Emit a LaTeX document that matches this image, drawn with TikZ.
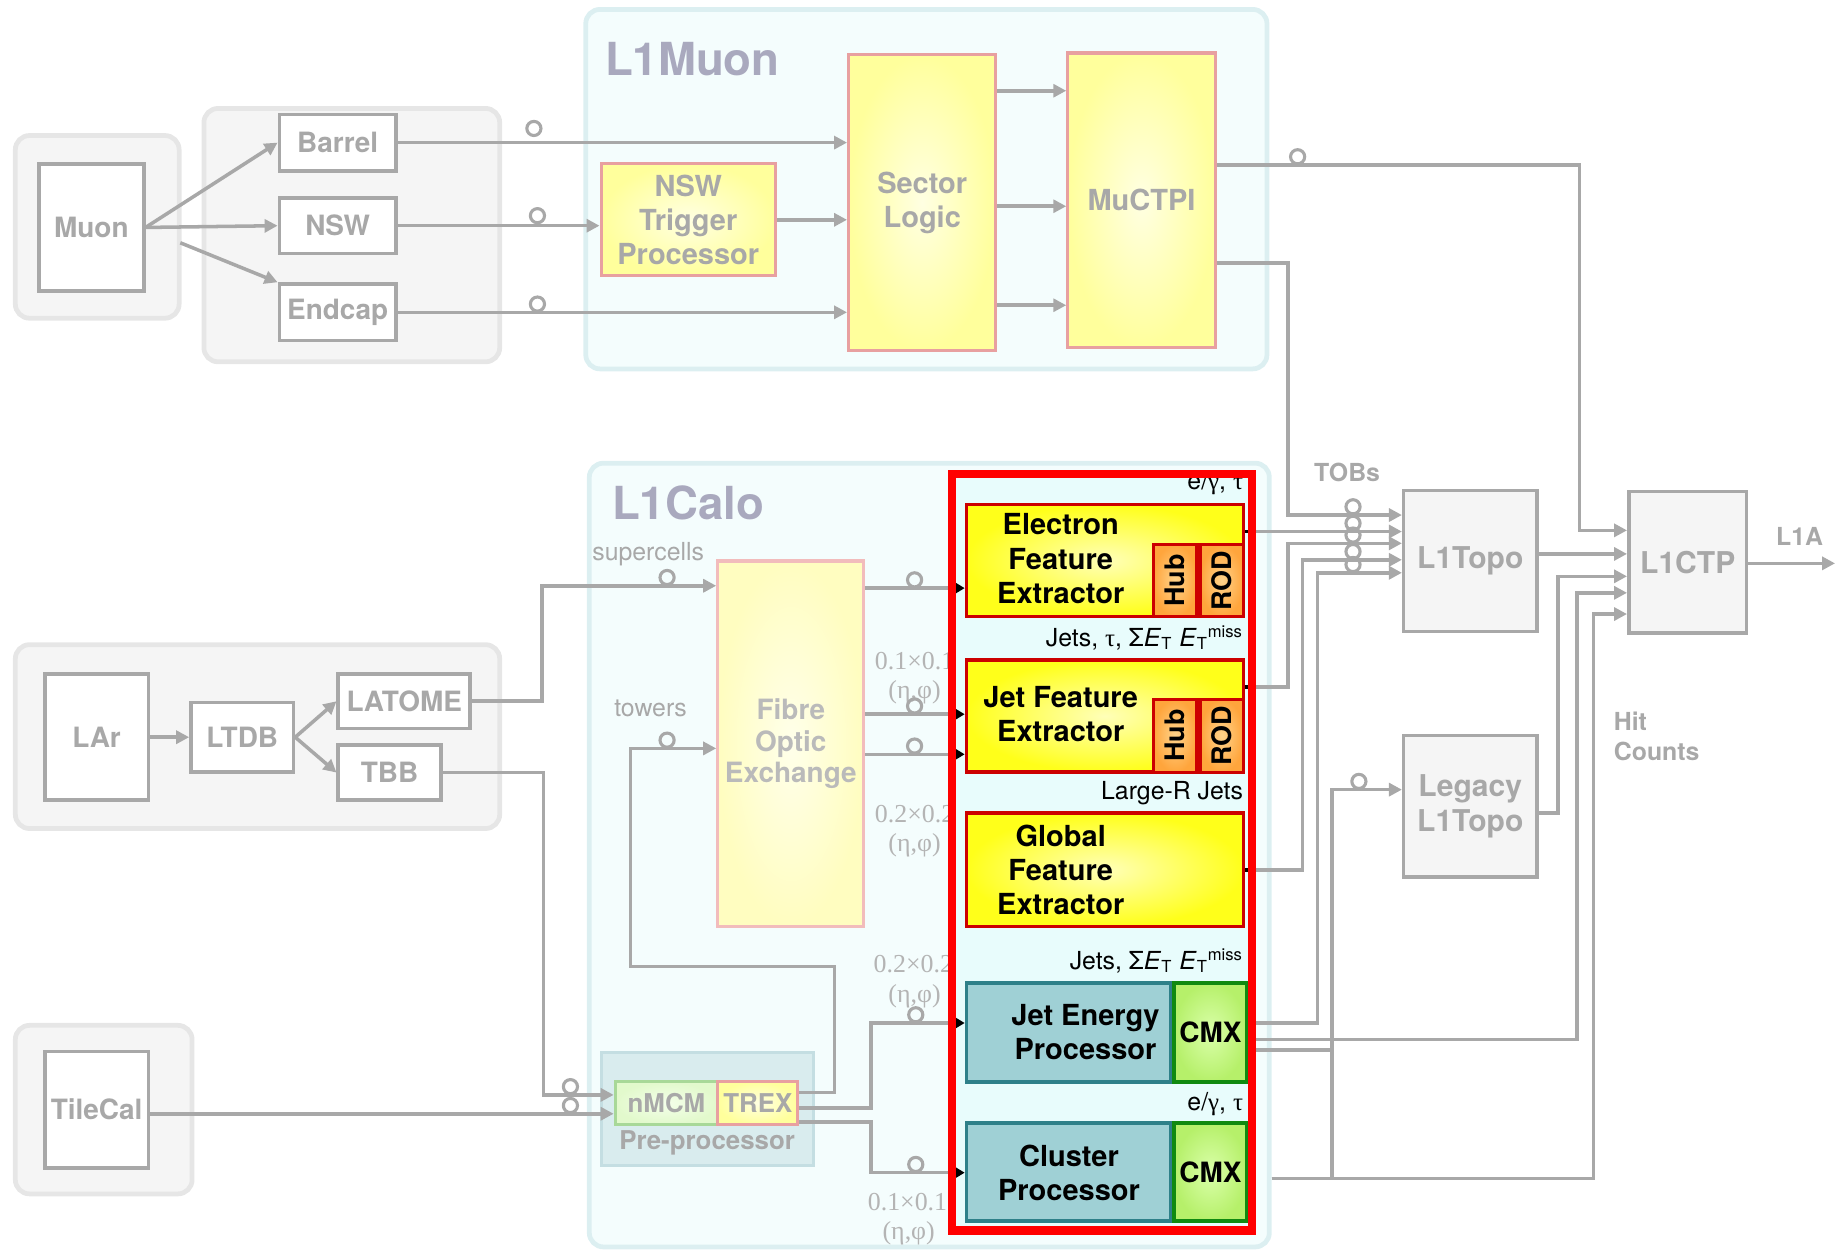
\documentclass[tikz,border=0pt]{standalone}
\usepackage{fontspec}
\setmainfont{TeX Gyre Heros}
\newfontfamily\gridfont{Liberation Serif}
\usetikzlibrary{arrows.meta, positioning}

\definecolor{lgray}{HTML}{A8A8A8}
\definecolor{fadegray}{HTML}{BABABA}
\definecolor{gridgray}{HTML}{B4B4B4}
\definecolor{grpfill}{HTML}{F5F5F5}
\definecolor{grpline}{HTML}{E6E6E6}
\definecolor{panelfill}{HTML}{F4FDFD}
\definecolor{panelline}{HTML}{DCEFF1}
\definecolor{titlecol}{HTML}{A9A9BE}
\definecolor{pinkline}{HTML}{E8A0A0}
\definecolor{yelin}{HTML}{FFFFE2}
\definecolor{yelout}{HTML}{FFFF9C}
\definecolor{fadein}{HTML}{FFFFEA}
\definecolor{fadeout}{HTML}{FFFDC0}
\definecolor{fadeline}{HTML}{F2BCBC}
\definecolor{fexin}{HTML}{FFFFB8}
\definecolor{fexout}{HTML}{FFFF1A}
\definecolor{fexline}{HTML}{CC0000}
\definecolor{hubin}{HTML}{FFD38A}
\definecolor{hubout}{HTML}{FFA53C}
\definecolor{redin}{HTML}{E8FCFC}
\definecolor{tealfill}{HTML}{9FD0D5}
\definecolor{tealline}{HTML}{2E8089}
\definecolor{cmxin}{HTML}{DAFFAA}
\definecolor{cmxout}{HTML}{B6F06A}
\definecolor{cmxline}{HTML}{108A10}
\definecolor{prefill}{HTML}{D9ECEE}
\definecolor{preline}{HTML}{C4DEE2}
\definecolor{mcmin}{HTML}{F4FFEA}
\definecolor{mcmout}{HTML}{E2F9CC}
\definecolor{mcmline}{HTML}{A8D898}

\tikzset{sz/.style 2 args={minimum width=#1*0.02cm, minimum height=#2*0.02cm}}

\begin{document}
\begin{tikzpicture}[x=0.02cm, y=-0.02cm,
    grp/.style={draw=grpline, line width=2.3pt, fill=grpfill, rounded corners=0.24cm, inner sep=0pt},
    panel/.style={draw=panelline, line width=2.3pt, fill=panelfill, rounded corners=0.24cm, inner sep=0pt},
    dev/.style={draw=lgray, line width=1.7pt, fill=white, inner sep=0pt, text=lgray, align=center, font=\fontsize{13.5}{16}\selectfont\bfseries},
    topo/.style={dev, fill=grpfill, font=\fontsize{14.5}{17}\selectfont\bfseries},
    proc/.style={dev, draw=pinkline, line width=1.5pt, inner color=yelin, outer color=yelout, font=\fontsize{14}{16.5}\selectfont\bfseries},
    fade/.style={proc, draw=fadeline, inner color=fadein, outer color=fadeout, text=fadegray, font=\fontsize{13.5}{15}\selectfont\bfseries},
    fex/.style={draw=fexline, line width=1.7pt, inner color=fexin, outer color=fexout, inner sep=0pt},
    fextxt/.style={font=\fontsize{14}{16.5}\selectfont\bfseries, align=center, inner sep=0pt},
    board/.style={draw=fexline, line width=1.5pt, inner color=hubin, outer color=hubout, inner sep=0pt, font=\fontsize{13}{15}\selectfont\bfseries},
    teal/.style={draw=tealline, line width=1.7pt, fill=tealfill, inner sep=0pt},
    cmx/.style={draw=cmxline, line width=1.7pt, inner color=cmxin, outer color=cmxout, inner sep=0pt, font=\fontsize{13.5}{16}\selectfont\bfseries},
    title/.style={text=titlecol, font=\fontsize{22}{26}\selectfont\bfseries, anchor=west, inner sep=0pt},
    note/.style={text=lgray, font=\fontsize{12}{14.5}\selectfont, inner sep=0pt},
    bnote/.style={note, font=\fontsize{12}{14.5}\selectfont\bfseries, align=left},
    grid/.style={text=gridgray, font=\gridfont\fontsize{12.5}{14}\selectfont, inner sep=0pt},
    tag/.style={font=\fontsize{12}{14}\selectfont, inner sep=0pt, anchor=east},
    link/.style={draw=lgray, line width=1.7pt},
    arr/.style={link, -{Triangle[length=0.22cm, width=0.22cm]}},
    inarr/.style={link, -{Triangle[length=0.16cm, width=0.18cm, color=black]}},
    ring/.style={draw=lgray, line width=1.5pt},
    stub/.style={draw=black, line width=1.7pt},
    redframe/.style={draw=red, line width=4pt}]

    \useasboundingbox (0,0) rectangle (1568,1060);

    % group panels
    \node[grp, sz={139}{155}] (muongrp) at (82.5,192.5) {};
    \node[grp, sz={251}{215}] (detgrp) at (298.5,199.5) {};
    \node[grp, sz={411}{156}] (largrp) at (218.5,625) {};
    \node[grp, sz={150}{143}] (tilegrp) at (88,941.5) {};
    \node[panel, sz={578}{305}] (muonpanel) at (786,160.5) {};
    \node[panel, sz={577}{665}] (calopanel) at (788.5,725.5) {};
    \node[title] (muontitle) at (513,50) {L1Muon};
    \node[title] (calotitle) at (519,427) {L1Calo};
    \node[note] (supercells) at (550,470) {supercells};
    \node[note] (towers) at (552,601) {towers};

    % granularity labels
    \node[grid, anchor=west] (g1a) at (742,561) {0.1×0.1};
    \node[grid] (g1b) at (776,587) {(η,φ)};
    \node[grid, anchor=west] (g2a) at (742,691) {0.2×0.2};
    \node[grid] (g2b) at (776,717) {(η,φ)};
    \node[grid, anchor=west] (g3a) at (741,818) {0.2×0.2};
    \node[grid] (g3b) at (776,845) {(η,φ)};
    \node[grid, anchor=west] (g4a) at (736,1020) {0.1×0.1};
    \node[grid] (g4b) at (771,1046) {(η,φ)};

    \node[draw=red, line width=4pt, fill=redin, outer sep=0pt, sz={254}{642}] (redbox) at (935,723) {};

    % muon side
    \node[dev, sz={89}{108}] (muon) at (77.5,193) {Muon};
    \node[dev, sz={99}{48}] (barrel) at (286.5,121) {Barrel};
    \node[dev, sz={99}{47}] (nsw) at (286.5,191.5) {NSW};
    \node[dev, sz={99}{48}] (endcap) at (286.5,265) {Endcap};
    \node[proc, sz={148}{95}] (nswtp) at (584,186.5) {NSW\\Trigger\\Processor};
    \node[proc, sz={125}{251}] (sector) at (782.5,172) {Sector\\Logic};
    \node[proc, sz={125}{250}] (muctpi) at (968.5,170) {MuCTPI};

    % calorimeter side
    \node[dev, sz={88}{107}] (lar) at (82,625.5) {LAr};
    \node[dev, sz={87}{59}] (ltdb) at (205.5,625.5) {LTDB};
    \node[dev, sz={112}{46}] (latome) at (343,595) {LATOME};
    \node[dev, sz={87}{47}] (tbb) at (330.5,655.5) {TBB};
    \node[dev, sz={88}{99}] (tilecal) at (82,941.5) {TileCal};
    \node[fade, sz={124}{310}] (foe) at (671,631) {Fibre\\Optic\\Exchange};
    \node[draw=preline, line width=1.5pt, fill=prefill, sz={180}{96}] (pre) at (600,941) {};
    \node[dev, draw=mcmline, line width=1.5pt, inner color=mcmin, outer color=mcmout, font=\fontsize{12.5}{15}\selectfont\bfseries, sz={87}{36}] (nmcm) at (565.5,936) {nMCM};
    \node[dev, draw=pinkline, line width=1.5pt, inner color=yelin, outer color=yelout, font=\fontsize{12.5}{15}\selectfont\bfseries, sz={68}{36}] (trex) at (643,936) {TREX};
    \node[note, font=\fontsize{12.5}{15}\selectfont\bfseries] (pretxt) at (600,970) {Pre-processor};

    % upgraded L1Calo
    \node[tag] (lab1) at (1055,410) {e/{\gridfont γ}, {\gridfont τ}};
    \node[fex, sz={235}{95}] (efex) at (937.5,475.5) {};
    \node[board, sz={37}{61}, anchor=south east] (rod1) at (efex.south east) {\rotatebox{90}{ROD}};
    \node[board, sz={37}{61}, left=0pt of rod1] (hub1) {\rotatebox{90}{Hub}};
    \node[fextxt] (efextxt) at (900,474) {Electron\\Feature\\Extractor};
    \node[tag] (lab2) at (1055,541) {Jets, {\gridfont τ}, Σ\textit{E}\textsubscript{T} \textit{E}\textsubscript{T}\textsuperscript{miss}};
    \node[fex, sz={235}{95}] (jfex) at (937.5,607.5) {};
    \node[board, sz={37}{62}, anchor=south east] (rod2) at (jfex.south east) {\rotatebox{90}{ROD}};
    \node[board, sz={37}{62}, left=0pt of rod2] (hub2) {\rotatebox{90}{Hub}};
    \node[fextxt] (jfextxt) at (900,606) {Jet Feature\\Extractor};
    \node[tag] (lab3) at (1055,673) {Large-R Jets};
    \node[fex, sz={235}{96}] (gfex) at (937.5,738) {};
    \node[fextxt] (gfextxt) at (900,738) {Global\\Feature\\Extractor};
    \node[tag] (lab4) at (1055,815) {Jets, Σ\textit{E}\textsubscript{T} \textit{E}\textsubscript{T}\textsuperscript{miss}};
    \node[teal, sz={173}{84}] (jep) at (906.5,876) {};
    \node[cmx, sz={62}{84}, right=0pt of jep] (cmxj) {CMX};
    \node[fextxt] (jeptxt) at (921,876) {Jet Energy\\Processor};
    \node[tag] (lab5) at (1055,937) {e/{\gridfont γ}, {\gridfont τ}};
    \node[teal, sz={173}{83}] (cp) at (906.5,994.5) {};
    \node[cmx, sz={62}{83}, right=0pt of cp] (cmxc) {CMX};
    \node[fextxt] (cptxt) at (907,995) {Cluster\\Processor};

    % topo and CTP
    \node[topo, sz={113}{120}] (l1topo) at (1247.5,476) {L1Topo};
    \node[topo, sz={113}{120}] (legacy) at (1247.5,684) {Legacy\\L1Topo};
    \node[topo, sz={100}{120}] (l1ctp) at (1432,477) {L1CTP};
    \node[bnote] (tobs) at (1143,401) {TOBs};
    \node[bnote, anchor=west] (hits) at (1369,625) {Hit\\Counts};
    \node[bnote] (l1alab) at (1527,455) {L1A};
    \coordinate (l1a) at (1557,478);
    \coordinate (split) at (153,206);
    \coordinate (cpout) at (1079,1000);

    % muon links
    \draw[arr] (muon.east) -- (barrel.west);
    \draw[arr] (muon.east) -- (nsw.west);
    \draw[arr] (split) -- (endcap.north west);
    \draw[arr] (barrel.east) -- (sector.west |- barrel.east);
    \draw[arr] (nsw.east) -- (nswtp.west |- nsw.east);
    \draw[arr] (endcap.east) -- (sector.west |- endcap.east);
    \draw[arr] (nswtp.east) -- (sector.west |- nswtp.east);
    \foreach \y in {77,175,259}
        \draw[arr] (sector.east |- 0,\y) -- (muctpi.west |- 0,\y);
    \draw[arr] (muctpi.east |- 0,140) -| (1340,450) -- (l1ctp.west |- 0,450);
    \draw[arr] (muctpi.east |- 0,223) -| (1093,437) -- (l1topo.west |- 0,437);

    % calo links
    \draw[arr] (lar.east) -- (ltdb.west);
    \draw[arr] (ltdb.east) -- (latome.west);
    \draw[arr] (ltdb.east) -- (tbb.west);
    \draw[arr] (latome.east) -| (460,497) -- (foe.west |- 0,497);
    \draw[arr] (tbb.east) -| (461,929) -- (nmcm.west |- 0,929);
    \draw[arr] (tilecal.east |- 0,945) -- (nmcm.west |- 0,945);
    \draw[arr] (trex.east |- 0,927) -| (708,820) -| (535,635) -- (foe.west |- 0,635);
    \draw[inarr] (trex.east |- 0,940) -| (739,868) -- (jep.west |- 0,868);
    \draw[inarr] (trex.east |- 0,952) -| (739,995) -- (cp.west |- 0,995);
    \foreach \y/\t in {499/efex, 606/jfex, 640/jfex}
        \draw[inarr] (foe.east |- 0,\y) -- (\t.west |- 0,\y);

    % outputs
    \draw[arr] (efex.east |- 0,451) -- (l1topo.west |- 0,451);
    \draw[arr] (jfex.east |- 0,583) -| (1093,461) -- (l1topo.west |- 0,461);
    \draw[arr] (gfex.east |- 0,738) -| (1105,475) -- (l1topo.west |- 0,475);
    \draw[arr] (cmxj.east |- 0,868) -| (1118,486) -- (l1topo.west |- 0,486);
    \draw[arr] (cmxj.east |- 0,882) -| (1338,503) -- (l1ctp.west |- 0,503);
    \draw[link] (cmxj.east |- 0,891) -- (1130,891);
    \draw[arr] (cpout) -| (1130,670) -- (legacy.west |- 0,670);
    \draw[arr] (cpout) -| (1352,521) -- (l1ctp.west |- 0,521);
    \draw[arr] (legacy.east |- 0,690) -| (1322,489) -- (l1ctp.west |- 0,489);
    \draw[arr] (l1topo.east |- 0,470) -- (l1ctp.west |- 0,470);
    \draw[arr] (l1ctp.east |- 0,478) -- (l1a);

    % fibre rings
    \foreach \x/\y in {453/116, 456/190, 456/265, 1101/140, 566/497, 566/635, 484/929, 484/945,
        776/499, 776/606, 776/640, 777/868, 777/995, 1148/437, 1148/451, 1148/461, 1148/475,
        1148/486, 1153/670}
        \draw[ring] (\x,\y-7) circle[radius=0.12cm];

    \foreach \n/\y in {efex/451, jfex/583, gfex/738, cmxj/868, cmxj/882, cmxj/891}
        \draw[stub] (\n.east |- 0,\y) -- ++(6,0);
    \draw[redframe] (redbox.south west) rectangle (redbox.north east);
\end{tikzpicture}
\end{document}
